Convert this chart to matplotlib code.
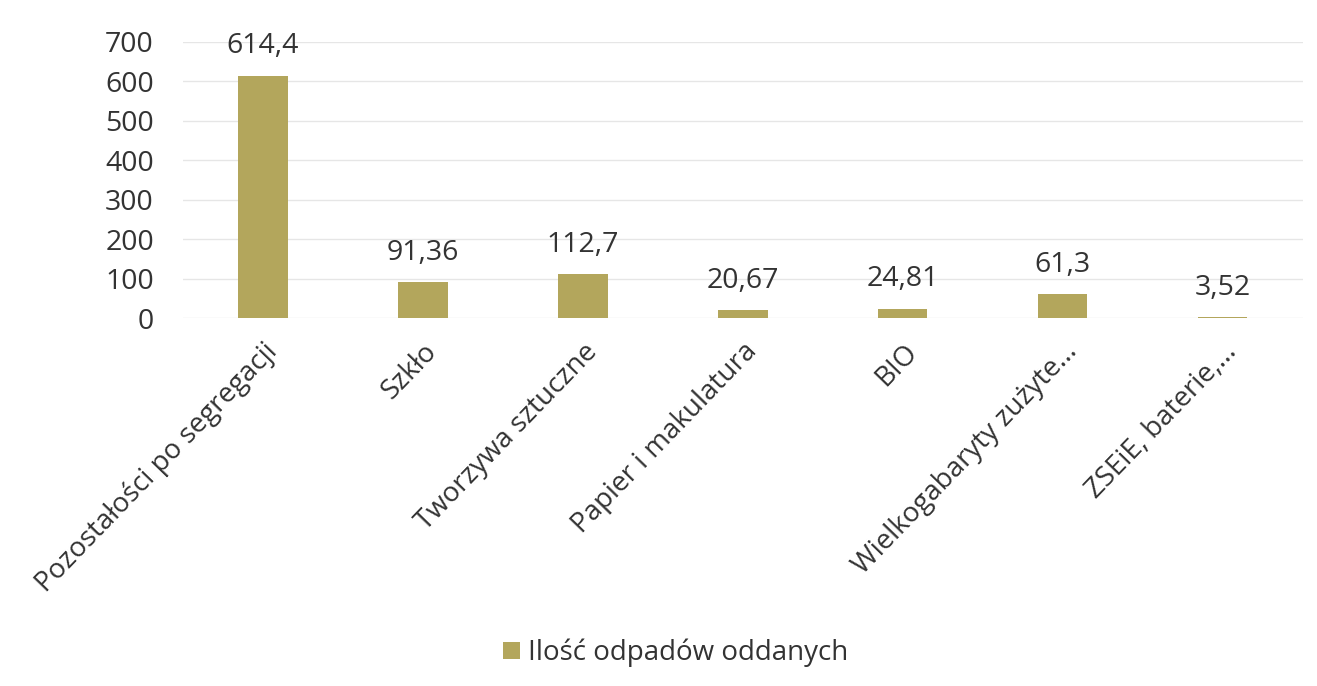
import matplotlib.pyplot as plt
import numpy as np

plt.rcParams['font.family'] = ['Open Sans', 'DejaVu Sans']

# dane
kategorie = ["Pozostałości po segregacji", "Szkło", "Tworzywa sztuczne",
             "Papier i makulatura", "BIO", "Wielkogabaryty zużyte...",
             "ZSEiE, baterie,..."]
wartosci = [614.4, 91.36, 112.7, 20.67, 24.81, 61.3, 3.52]
etykiety = ["614,4", "91,36", "112,7", "20,67", "24,81", "61,3", "3,52"]
seria = "Ilość odpadów oddanych"

kolor = "#b3a65c"
tekst = "#333333"

fig = plt.figure(figsize=(13.17, 6.86), dpi=100)
ax = fig.add_axes([0.139, 0.536, 0.850, 0.403])

x = np.arange(len(kategorie))
slupki = ax.bar(x, wartosci, width=0.31, color=kolor, label=seria, zorder=2)

# etykiety wartości
for xi, v, t in zip(x, wartosci, etykiety):
    ax.annotate(t, (xi, v), xytext=(0, 11), textcoords="offset points",
                ha="center", va="bottom", fontsize=20.5, color=tekst)

ax.set_xlim(-0.5, len(kategorie) - 0.5)
ax.set_ylim(0, 700)
ax.set_yticks(np.arange(0, 701, 100))
ax.yaxis.grid(True, color="#e6e6e6", linewidth=1, zorder=0)
ax.set_axisbelow(True)

ax.set_xticks(x)
ax.set_xticklabels(kategorie, rotation=46, ha="right", rotation_mode="anchor",
                   fontsize=20, color=tekst)
ax.tick_params(axis="x", length=0, pad=14)
ax.tick_params(axis="y", length=0, pad=21, labelsize=20.5, labelcolor=tekst)

for s in ax.spines.values():
    s.set_visible(False)

fig.legend(handles=[slupki], labels=[seria], loc="center",
           bbox_to_anchor=(0.513, 0.048), frameon=False, fontsize=20,
           handlelength=0.6, handleheight=0.6, handletextpad=0.3,
           labelcolor=tekst)

fig.savefig("out.png", dpi=100)
